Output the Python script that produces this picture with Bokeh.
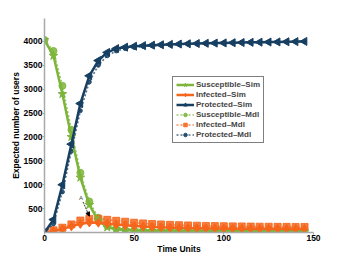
from bokeh.plotting import figure
from bokeh.models import (Range1d, FixedTicker, Legend, LegendItem, Arrow, NormalHead, Label)
from bokeh.embed import file_html
from bokeh.resources import INLINE
import math

time = [0, 5, 10, 15, 20, 25, 30, 35, 40, 45, 50, 55, 60, 65, 70, 75, 80, 85, 90, 95,
        100, 105, 110, 115, 120, 125, 130, 135, 140, 145]
sus_sim = [4030, 3700, 2900, 2000, 1150, 580, 250, 110, 70, 50, 40, 35, 32, 30, 30, 28, 28, 27, 27, 26,
           26, 25, 25, 25, 25, 25, 25, 25, 25, 25]
sus_mdl = [4030, 3800, 3070, 2150, 1250, 650, 310, 140, 80, 55, 45, 40, 36, 34, 32, 31, 30, 30, 29, 29,
           28, 28, 28, 28, 28, 28, 28, 28, 28, 28]
inf_sim = [0, 30, 70, 130, 180, 210, 205, 185, 165, 150, 135, 125, 115, 108, 102, 97, 93, 90, 87, 85,
           83, 81, 80, 79, 78, 77, 76, 75, 75, 74]
inf_mdl = [0, 45, 100, 170, 250, 285, 285, 265, 245, 225, 205, 190, 178, 168, 160, 153, 147, 142, 138, 134,
           131, 128, 126, 124, 122, 120, 119, 118, 117, 116]
prot_sim = [0, 270, 1000, 1850, 2700, 3280, 3600, 3770, 3850, 3880, 3900, 3912, 3922, 3930, 3938, 3945,
            3951, 3956, 3961, 3965, 3969, 3973, 3977, 3981, 3984, 3987, 3990, 3993, 3996, 4000]
prot_mdl = [0, 180, 850, 1700, 2550, 3150, 3500, 3700, 3800, 3850, 3875, 3895, 3908, 3918, 3927, 3935,
            3942, 3948, 3954, 3959, 3963, 3967, 3971, 3975, 3979, 3983, 3987, 3991, 3995, 3998]
x_ticks = [0, 50, 100, 150]
y_ticks = [500, 1000, 1500, 2000, 2500, 3000, 3500, 4000]

GREEN = "#7db53b"
ORANGE = "#f5661c"
NAVY = "#173f62"
FONT = "Liberation Sans"
FS = "8.5px"

p = figure(width=346, height=260, output_backend="svg", toolbar_location=None,
           x_range=Range1d(0, 150), y_range=Range1d(0, 4480),
           min_border_left=44, min_border_right=33, min_border_top=18, min_border_bottom=28)
p.outline_line_color = None
p.grid.visible = False

for ax in (p.xaxis[0], p.yaxis[0]):
    ax.axis_line_color = "#a8a8a8"
    ax.axis_line_width = 1.5
    ax.major_tick_line_color = "#a8a8a8"
    ax.major_tick_in = 0
    ax.major_tick_out = 2
    ax.minor_tick_line_color = None
    ax.major_label_text_font = FONT
    ax.major_label_text_font_style = "bold"
    ax.major_label_text_font_size = FS
    ax.major_label_text_color = "black"
    ax.axis_label_text_font = FONT
    ax.axis_label_text_font_style = "bold"
    ax.axis_label_text_font_size = FS
    ax.axis_label_text_color = "black"

p.xaxis.ticker = FixedTicker(ticks=x_ticks)
p.yaxis.ticker = FixedTicker(ticks=y_ticks)
p.xaxis.axis_label = "Time Units"
p.yaxis.axis_label = "Expected number of users"
p.xaxis.major_label_standoff = 0
p.yaxis.major_label_standoff = 0
p.xaxis.axis_label_standoff = 0
p.yaxis.axis_label_standoff = 0

def mdl(y, color, marker, size):
    l = p.line(time, y, line_color=color, line_width=1.6, line_dash="2 2", line_alpha=0.75)
    s = p.scatter(time, y, marker=marker, size=size, fill_color=color, line_color=color, alpha=0.85)
    return [l, s]

def sim(y, color, marker, size, angle=0.0):
    l = p.line(time, y, line_color=color, line_width=2.5)
    s = p.scatter(time, y, marker=marker, size=size, fill_color=color, line_color=color, angle=angle)
    return [l, s]

r_sm = mdl(sus_mdl, GREEN, "circle", 7)
r_im = mdl(inf_mdl, ORANGE, "square", 7)
r_pm = mdl(prot_mdl, NAVY, "circle", 4)
r_ss = sim(sus_sim, GREEN, "star", 9)
r_is = sim(inf_sim, ORANGE, "diamond", 9)
r_ps = sim(prot_sim, NAVY, "triangle", 8, angle=math.pi / 2)

p.add_layout(Label(x=20.3, y=730, text="A", text_font=FONT, text_font_size="6px",
                   text_align="center", text_baseline="middle"))
p.add_layout(Arrow(end=NormalHead(size=4, fill_color="black", line_color="black"),
                   x_start=21.5, y_start=640, x_end=25, y_end=340,
                   line_color="black", line_width=0.8, line_dash="2 1"))

legend = Legend(items=[
    LegendItem(label="Susceptible\u2013Sim", renderers=r_ss),
    LegendItem(label="Infected\u2013Sim", renderers=r_is),
    LegendItem(label="Protected\u2013Sim", renderers=r_ps),
    LegendItem(label="Susceptible\u2013Mdl", renderers=r_sm),
    LegendItem(label="Infected\u2013Mdl", renderers=r_im),
    LegendItem(label="Protected\u2013Mdl", renderers=r_pm),
], location=(128, 89))
legend.label_text_font = FONT
legend.label_text_font_style = "bold"
legend.label_text_font_size = "8px"
legend.label_height = 9
legend.label_standoff = 2
legend.glyph_width = 18
legend.glyph_height = 9
legend.spacing = 1
legend.padding = 3
legend.margin = 0
legend.border_line_color = "black"
legend.border_line_width = 0.7
legend.background_fill_alpha = 1.0
p.add_layout(legend, "center")

open("out.html", "w").write(file_html(p, INLINE))
